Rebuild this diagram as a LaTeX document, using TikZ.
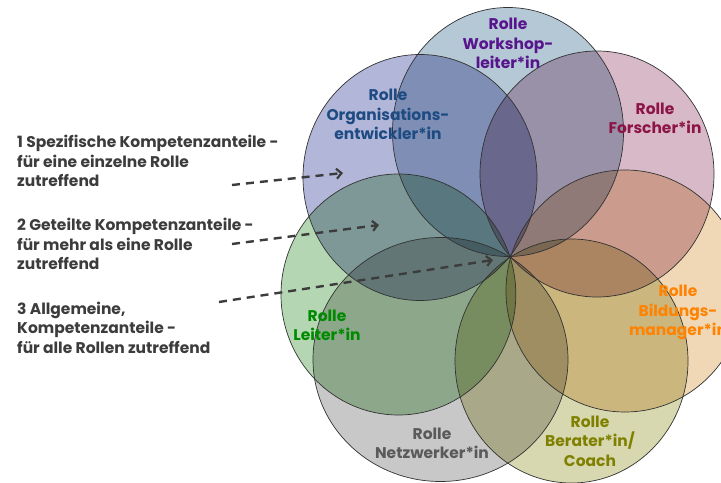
\documentclass[tikz,border=0pt]{standalone}
\usepackage{fontspec}
\setmainfont{Poppins}
\usetikzlibrary{arrows.meta}
\definecolor{cWork}{RGB}{181,200,214}
\definecolor{cOrg}{RGB}{178,182,216}
\definecolor{cFor}{RGB}{216,185,200}
\definecolor{cBil}{RGB}{240,216,182}
\definecolor{cBer}{RGB}{216,216,176}
\definecolor{cNet}{RGB}{200,200,200}
\definecolor{cLei}{RGB}{180,214,178}
\definecolor{cLine}{RGB}{50,50,50}
\definecolor{cText}{RGB}{60,60,60}
\definecolor{tWork}{RGB}{88,20,140}
\definecolor{tOrg}{RGB}{30,75,130}
\definecolor{tFor}{RGB}{140,20,70}
\definecolor{tBil}{RGB}{255,130,0}
\definecolor{tBer}{RGB}{128,128,0}
\definecolor{tNet}{RGB}{90,90,90}
\definecolor{tLei}{RGB}{0,138,0}
\begin{document}
\begin{tikzpicture}[x=1bp,y=-1bp,
  lbl/.style={font=\bfseries\fontsize{15.5bp}{19.5bp}\selectfont, align=center, anchor=base, inner sep=0},
  side/.style={font=\bfseries\fontsize{15.5bp}{19.5bp}\selectfont, align=left, anchor=base west, inner sep=0, text=cText},
  ring/.style={draw=cLine, line width=0.7bp},
  arr/.style={draw=cText, line width=2.4bp, dash pattern=on 8bp off 6bp,
    -{Straight Barb[length=5bp,width=10bp,line width=2.2bp]}}
]
\useasboundingbox (0,0) rectangle (721,483);
% ellipse centres (all pass through the common point near (510,257))
\coordinate (cw) at (508,132);
\coordinate (cf) at (597,174);
\coordinate (cb) at (625,291);
\coordinate (cr) at (571.5,361);
\coordinate (cn) at (440.5,359.5);
\coordinate (cl) at (398.4,294.5);
\coordinate (co) at (420,177.5);
\def\ew{(cw) ellipse[x radius=115.5bp, y radius=124.5bp]}
\def\ef{(cf) ellipse[x radius=117bp, y radius=123bp]}
\def\eb{(cb) ellipse[x radius=119bp, y radius=121bp]}
\def\er{(cr) ellipse[x radius=116.5bp, y radius=122bp]}
\def\en{(cn) ellipse[x radius=127.5bp, y radius=122bp]}
\def\el{(cl) ellipse[x radius=117.4bp, y radius=120.5bp]}
\def\eo{(co) ellipse[x radius=117bp, y radius=123bp]}
\begin{scope}[blend group=multiply]
  \fill[cWork] \ew;
  \fill[cFor]  \ef;
  \fill[cBil]  \eb;
  \fill[cBer]  \er;
  \fill[cNet]  \en;
  \fill[cLei]  \el;
  \fill[cOrg]  \eo;
\end{scope}
\draw[ring] \ew; \draw[ring] \ef; \draw[ring] \eb; \draw[ring] \er;
\draw[ring] \en; \draw[ring] \el; \draw[ring] \eo;
% circle labels (anchor = baseline of last line)
\node[lbl, text=tWork] (lw) at (508,69) {Rolle\\Workshop-\\leiter*in};
\node[lbl, text=tOrg]  (lo) at (388,140) {Rolle\\Organisations-\\entwickler*in};
\node[lbl, text=tFor]  (lf) at (655,134) {Rolle\\Forscher*in};
\node[lbl, text=tBil]  (lb) at (678,335.5) {Rolle\\Bildungs-\\manager*in};
\node[lbl, text=tBer]  (lr) at (590,466) {Rolle\\Berater*in/\\Coach};
\node[lbl, text=tNet]  (ln) at (432,458.5) {Rolle\\Netzwerker*in};
\node[lbl, text=tLei]  (ll) at (327,340.5) {Rolle\\Leiter*in};
% side texts
\node[side] (s1) at (17,187) {1 Spezifische Kompetenzanteile -\\für eine einzelne Rolle\\zutreffend};
\node[side] (s2) at (17,270) {2 Geteilte Kompetenzanteile -\\für mehr als eine Rolle\\zutreffend};
\node[side] (s3) at (17,353) {3 Allgemeine,\\Kompetenzanteile -\\für alle Rollen zutreffend};
% arrows
\coordinate (a1s) at (232,185);
\coordinate (a1e) at (343,173);
\coordinate (a2s) at (232,244);
\coordinate (a2e) at (379,225);
\coordinate (a3s) at (219,302);
\coordinate (a3e) at (493,260);
\draw[arr] (a1s) -- (a1e);
\draw[arr] (a2s) -- (a2e);
\draw[arr] (a3s) -- (a3e);
\end{tikzpicture}
\end{document}
